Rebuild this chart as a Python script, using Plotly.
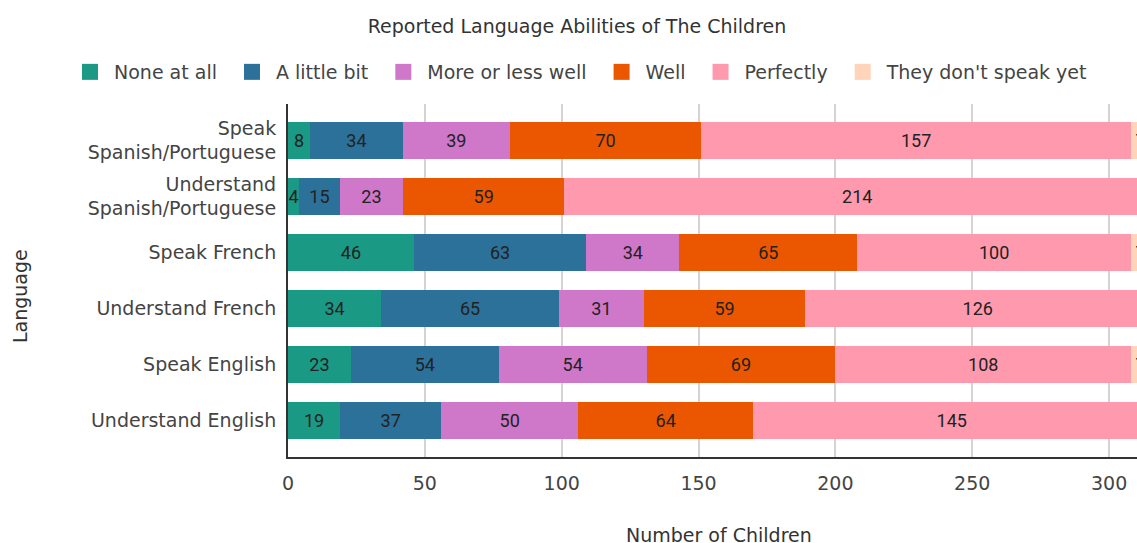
import plotly.graph_objects as go

# Survey rows, listed top to bottom
languages = [
    "Speak<br>Spanish/Portuguese",
    "Understand<br>Spanish/Portuguese",
    "Speak French",
    "Understand French",
    "Speak English",
    "Understand English",
]

none_at_all = [8, 4, 46, 34, 23, 19]
a_little_bit = [34, 15, 63, 65, 54, 37]
more_or_less_well = [39, 23, 34, 31, 54, 50]
well = [70, 59, 65, 59, 69, 64]
perfectly = [157, 214, 100, 126, 108, 145]
dont_speak_yet = [7, 0, 7, 0, 7, 0]

x_ticks = [0, 50, 100, 150, 200, 250, 300]

series = [
    ("None at all", none_at_all, "#1a9985"),
    ("A little bit", a_little_bit, "#2c7199"),
    ("More or less well", more_or_less_well, "#cf77c9"),
    ("Well", well, "#eb5600"),
    ("Perfectly", perfectly, "#ff99ad"),
    ("They don't speak yet", dont_speak_yet, "#ffd4b8"),
]

UI_FONT = "DejaVu Sans, Verdana, sans-serif"
UI_SIZE = 19
LABEL_SIZE = 18

fig = go.Figure()
for name, values, color in series:
    fig.add_trace(go.Bar(
        y=languages,
        x=values,
        name=name,
        orientation="h",
        marker=dict(color=color, line=dict(width=0)),
        text=[str(v) if v else "" for v in values],
        textposition="inside",
        insidetextanchor="middle",
        textfont=dict(family="Roboto, sans-serif", size=LABEL_SIZE, color="#222222"),
        hoverinfo="x+y+name",
        showlegend=False,
        legendgroup=name,
    ))

# Legend keys: larger square swatches than the default bar key
for name, values, color in series:
    fig.add_trace(go.Scatter(
        x=[None], y=[None],
        mode="markers",
        name=name + "\u00a0",
        legendgroup=name,
        marker=dict(symbol="square", size=16, color=color),
        hoverinfo="skip",
    ))

W, H = 1137, 543
PLOT_L, PLOT_R, PLOT_T, PLOT_B = 288, W, 104, 457
PW, PH = PLOT_R - PLOT_L, PLOT_B - PLOT_T

fig.update_layout(
    width=W,
    height=H,
    barmode="stack",
    bargap=0.34,
    paper_bgcolor="white",
    plot_bgcolor="white",
    margin=dict(l=PLOT_L, r=W - PLOT_R, t=PLOT_T, b=H - PLOT_B),
    uniformtext=dict(minsize=LABEL_SIZE, mode="show"),
    title=dict(
        text="Reported Language Abilities of The Children",
        x=577 / W, xanchor="center", xref="container",
        y=1 - 26 / H, yanchor="middle", yref="container",
        font=dict(family=UI_FONT, size=UI_SIZE, color="#333333"),
    ),
    legend=dict(
        orientation="h",
        x=(66 - PLOT_L) / PW, xanchor="left", xref="paper",
        y=(PLOT_B - 72) / PH, yanchor="middle", yref="paper",
        font=dict(family=UI_FONT, size=UI_SIZE, color="#444444"),
        itemwidth=38,
        traceorder="normal",
    ),
    xaxis=dict(
        range=[0, 310.2],
        tickvals=x_ticks,
        ticktext=[str(t) for t in x_ticks],
        showgrid=True,
        gridcolor="#d4d4d4",
        gridwidth=1.5,
        showline=True,
        linecolor="#333333",
        linewidth=2,
        zeroline=False,
        ticks="",
        ticklabelstandoff=8,
        tickfont=dict(family=UI_FONT, size=UI_SIZE, color="#444444"),
    ),
    yaxis=dict(
        categoryorder="array",
        categoryarray=languages,
        range=[5.65, -0.65],
        showline=True,
        linecolor="#333333",
        linewidth=2,
        showgrid=False,
        zeroline=False,
        ticks="",
        ticklabelstandoff=6,
        tickfont=dict(family=UI_FONT, size=UI_SIZE, color="#444444"),
    ),
    annotations=[
        dict(
            text="Number of Children", xref="paper", yref="paper",
            x=(719 - PLOT_L) / PW, y=-(535 - PLOT_B) / PH,
            xanchor="center", yanchor="middle", showarrow=False,
            font=dict(family=UI_FONT, size=UI_SIZE, color="#333333"),
        ),
        dict(
            text="Language", xref="paper", yref="paper",
            x=-(PLOT_L - 20) / PW, y=(PLOT_B - 296) / PH,
            xanchor="center", yanchor="middle", showarrow=False, textangle=-90,
            font=dict(family=UI_FONT, size=UI_SIZE, color="#333333"),
        ),
    ],
)

fig.write_html("out.html")
